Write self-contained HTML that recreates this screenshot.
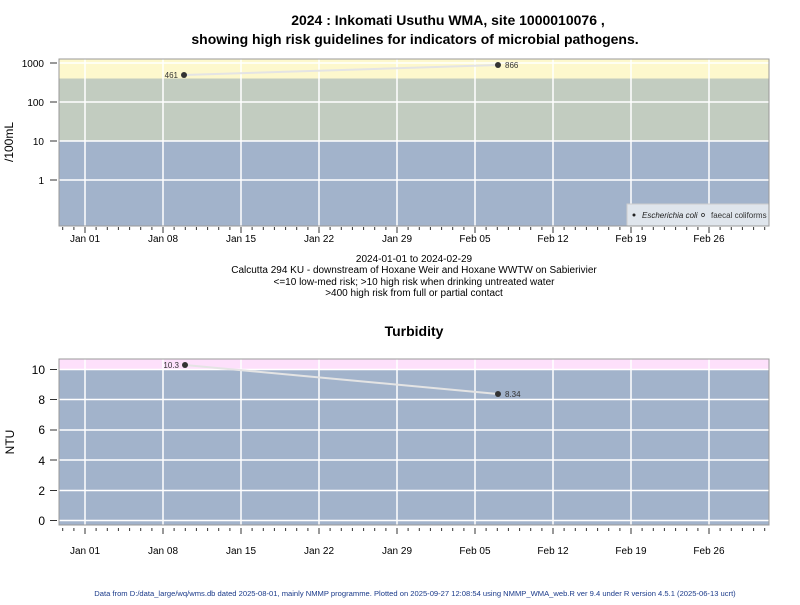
<!DOCTYPE html>
<html><head><style>
body{margin:0;background:#fff;}
svg text{font-family:"Liberation Sans",Arial,sans-serif;}
</style></head><body>
<svg width="800" height="600" viewBox="0 0 800 600" xmlns="http://www.w3.org/2000/svg">
<defs>
<g id="xt">
<g stroke="#333" stroke-width="1">
<line x1="85" x2="85" y1="0" y2="6"/><line x1="163" x2="163" y1="0" y2="6"/><line x1="241" x2="241" y1="0" y2="6"/><line x1="319" x2="319" y1="0" y2="6"/><line x1="397" x2="397" y1="0" y2="6"/><line x1="475" x2="475" y1="0" y2="6"/><line x1="553" x2="553" y1="0" y2="6"/><line x1="631" x2="631" y1="0" y2="6"/><line x1="709" x2="709" y1="0" y2="6"/>
</g>
<path stroke="#333" stroke-width="1" d="M62.7 0v3M73.9 0v3M96.1 0v3M107.3 0v3M118.4 0v3M129.6 0v3M140.7 0v3M151.9 0v3M174.1 0v3M185.3 0v3M196.4 0v3M207.6 0v3M218.7 0v3M229.9 0v3M252.1 0v3M263.3 0v3M274.4 0v3M285.6 0v3M296.7 0v3M307.9 0v3M330.1 0v3M341.3 0v3M352.4 0v3M363.6 0v3M374.7 0v3M385.9 0v3M408.1 0v3M419.3 0v3M430.4 0v3M441.6 0v3M452.7 0v3M463.9 0v3M486.1 0v3M497.3 0v3M508.4 0v3M519.6 0v3M530.7 0v3M541.9 0v3M564.1 0v3M575.3 0v3M586.4 0v3M597.6 0v3M608.7 0v3M619.9 0v3M642.1 0v3M653.3 0v3M664.4 0v3M675.6 0v3M686.7 0v3M697.9 0v3M720.1 0v3M731.3 0v3M742.4 0v3M753.6 0v3M764.7 0v3"/>
</g>
</defs>
<text x="448" y="25" font-size="14" font-weight="bold" text-anchor="middle">2024 : Inkomati Usuthu WMA, site 1000010076 ,</text>
<text x="415" y="44" font-size="14" font-weight="bold" text-anchor="middle">showing high risk guidelines for indicators of microbial pathogens.</text>
<!-- top panel -->
<rect x="59" y="59" width="710" height="20" fill="#fdf8cd"/>
<rect x="59" y="78.5" width="710" height="62.5" fill="#c2ccc0"/>
<rect x="59" y="141" width="710" height="85" fill="#a2b3cb"/>
<g stroke="#fff" stroke-width="1.5">
<line x1="59" x2="769" y1="63" y2="63"/><line x1="59" x2="769" y1="102" y2="102"/><line x1="59" x2="769" y1="141" y2="141"/><line x1="59" x2="769" y1="180" y2="180"/>
<line x1="85" x2="85" y1="59" y2="226"/><line x1="163" x2="163" y1="59" y2="226"/><line x1="241" x2="241" y1="59" y2="226"/><line x1="319" x2="319" y1="59" y2="226"/><line x1="397" x2="397" y1="59" y2="226"/><line x1="475" x2="475" y1="59" y2="226"/><line x1="553" x2="553" y1="59" y2="226"/><line x1="631" x2="631" y1="59" y2="226"/><line x1="709" x2="709" y1="59" y2="226"/>
</g>
<polyline points="184,75 498,65" stroke="#e4e4e4" stroke-width="2" fill="none"/>
<circle cx="184" cy="75" r="3" fill="#333"/><circle cx="498" cy="65" r="3" fill="#333"/>
<text x="178" y="78" font-size="8" fill="#333" text-anchor="end">461</text>
<text x="505" y="68" font-size="8" fill="#333">866</text>
<rect x="627" y="204" width="142" height="22" fill="#dfe5ec" stroke="#ccc"/>
<circle cx="634" cy="215" r="1.5" fill="#222"/><text x="642" y="218" font-size="8" font-style="italic" fill="#222">Escherichia coli</text>
<circle cx="703" cy="215" r="1.5" fill="none" stroke="#222" stroke-width="0.7"/><text x="711" y="218" font-size="8" fill="#333">faecal coliforms</text>
<rect x="59" y="59" width="710" height="167" fill="none" stroke="#999"/>
<g font-size="10" text-anchor="end"><text x="44" y="67">1000</text><text x="44" y="106">100</text><text x="44" y="145">10</text><text x="44" y="184">1</text></g>
<g stroke="#333"><line x1="50" x2="57" y1="63" y2="63"/><line x1="50" x2="57" y1="102" y2="102"/><line x1="50" x2="57" y1="141" y2="141"/><line x1="50" x2="57" y1="180" y2="180"/></g>
<text transform="translate(13,142) rotate(-90)" font-size="12" text-anchor="middle">/100mL</text>
<use href="#xt" x="0" y="227"/>
<g font-size="10" text-anchor="middle"><text x="85" y="242">Jan 01</text><text x="163" y="242">Jan 08</text><text x="241" y="242">Jan 15</text><text x="319" y="242">Jan 22</text><text x="397" y="242">Jan 29</text><text x="475" y="242">Feb 05</text><text x="553" y="242">Feb 12</text><text x="631" y="242">Feb 19</text><text x="709" y="242">Feb 26</text></g>
<g font-size="10" text-anchor="middle"><text x="414" y="262">2024-01-01 to 2024-02-29</text><text x="414" y="273">Calcutta 294 KU - downstream of Hoxane Weir and Hoxane WWTW on Sabierivier</text><text x="414" y="285">&lt;=10 low-med risk; &gt;10 high risk when drinking untreated water</text><text x="414" y="296">&gt;400 high risk from full or partial contact</text></g>
<text x="414" y="336" font-size="14" font-weight="bold" text-anchor="middle">Turbidity</text>
<!-- bottom panel -->
<rect x="59" y="359" width="710" height="11" fill="#fde0fb"/>
<rect x="59" y="369.5" width="710" height="156" fill="#a2b3cb"/>
<g stroke="#fff" stroke-width="1.5">
<line x1="59" x2="769" y1="369.5" y2="369.5"/><line x1="59" x2="769" y1="399.5" y2="399.5"/><line x1="59" x2="769" y1="430" y2="430"/><line x1="59" x2="769" y1="460" y2="460"/><line x1="59" x2="769" y1="490.5" y2="490.5"/><line x1="59" x2="769" y1="520.5" y2="520.5"/>
<line x1="85" x2="85" y1="359" y2="525"/><line x1="163" x2="163" y1="359" y2="525"/><line x1="241" x2="241" y1="359" y2="525"/><line x1="319" x2="319" y1="359" y2="525"/><line x1="397" x2="397" y1="359" y2="525"/><line x1="475" x2="475" y1="359" y2="525"/><line x1="553" x2="553" y1="359" y2="525"/><line x1="631" x2="631" y1="359" y2="525"/><line x1="709" x2="709" y1="359" y2="525"/>
</g>
<polyline points="185,365 498,394" stroke="#e4e4e4" stroke-width="2" fill="none"/>
<circle cx="185" cy="365" r="3" fill="#333"/><circle cx="498" cy="394" r="3" fill="#333"/>
<text x="179" y="368" font-size="8" fill="#333" text-anchor="end">10.3</text>
<text x="505" y="397" font-size="8" fill="#333">8.34</text>
<rect x="59" y="359" width="710" height="166" fill="none" stroke="#999"/>
<g font-size="12" text-anchor="end"><text x="45" y="374">10</text><text x="45" y="404">8</text><text x="45" y="434">6</text><text x="45" y="465">4</text><text x="45" y="495">2</text><text x="45" y="525">0</text></g>
<g stroke="#333"><line x1="50" x2="57" y1="369.5" y2="369.5"/><line x1="50" x2="57" y1="399.5" y2="399.5"/><line x1="50" x2="57" y1="430" y2="430"/><line x1="50" x2="57" y1="460" y2="460"/><line x1="50" x2="57" y1="490.5" y2="490.5"/><line x1="50" x2="57" y1="520.5" y2="520.5"/></g>
<text transform="translate(14,442) rotate(-90)" font-size="12" text-anchor="middle">NTU</text>
<use href="#xt" x="0" y="528"/>
<g font-size="10" text-anchor="middle"><text x="85" y="554">Jan 01</text><text x="163" y="554">Jan 08</text><text x="241" y="554">Jan 15</text><text x="319" y="554">Jan 22</text><text x="397" y="554">Jan 29</text><text x="475" y="554">Feb 05</text><text x="553" y="554">Feb 12</text><text x="631" y="554">Feb 19</text><text x="709" y="554">Feb 26</text></g>
<text x="415" y="596" font-size="7.6" fill="#1a3a8a" text-anchor="middle">Data from D:/data_large/wq/wms.db dated 2025-08-01, mainly NMMP programme. Plotted on 2025-09-27 12:08:54 using NMMP_WMA_web.R ver 9.4 under R version 4.5.1 (2025-06-13 ucrt)</text>
</svg>
</body></html>
